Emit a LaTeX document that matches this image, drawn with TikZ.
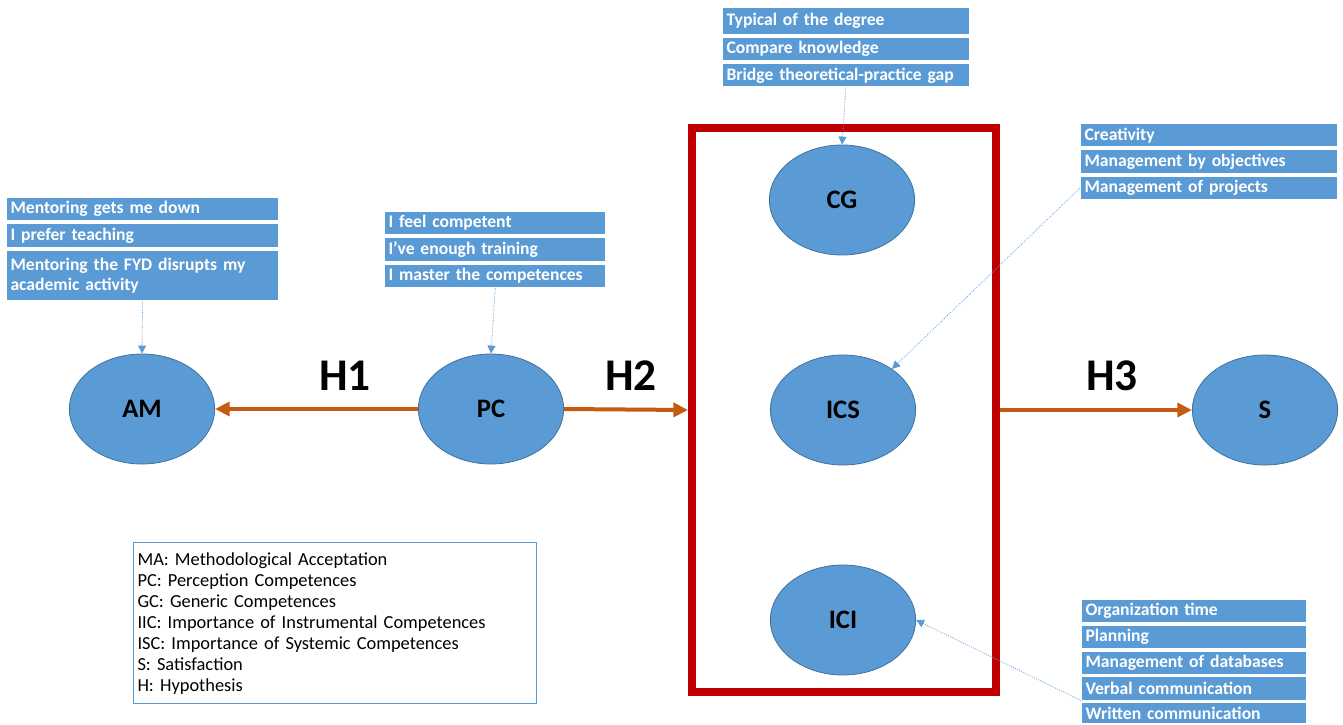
\documentclass[tikz,border=0pt]{standalone}
\usepackage{fontspec}
\setmainfont{Carlito}
\usepackage{xcolor}
\usepackage{tikz}
\usetikzlibrary{positioning,arrows.meta,shapes.geometric}
\definecolor{boxblue}{HTML}{5B9BD5}
\definecolor{rimblue}{HTML}{41719C}
\definecolor{hyporange}{HTML}{C55A11}
\definecolor{framered}{HTML}{C00000}
\tikzset{
  var/.style={ellipse,draw=rimblue,fill=boxblue,line width=0.6pt,inner sep=0pt,
              minimum width=109pt,minimum height=82.5pt,font=\bfseries\fontsize{20}{24}\selectfont},
  tbox/.style={fill=boxblue,draw=white,line width=0.8pt,text=white,align=left,
               text width=#1,inner xsep=3pt,inner ysep=0pt,minimum height=17.5pt,
               font=\bfseries\fontsize{13.2}{15}\selectfont},
  hlab/.style={font=\bfseries\fontsize{34}{40}\selectfont},
  group/.style={draw=framered,line width=6pt,minimum width=228pt,minimum height=423pt},
  legend/.style={draw=boxblue,line width=0.8pt,align=left,anchor=north west,text width=296pt,
                 minimum height=121pt,inner xsep=3pt,font=\fontsize{13.8}{15.75}\selectfont},
  hyp/.style={draw=hyporange,line width=3pt,-{Triangle[length=11pt,width=10.5pt]}},
  conn/.style={draw=boxblue,densely dotted,line width=0.6pt,-{Triangle[length=6pt,width=6pt]}}
}
\begin{document}
\begin{tikzpicture}[x=0.75pt,y=-0.75pt]
  \useasboundingbox (0,0) rectangle (1343,725);
  \node[var] (am) at (142,409) {AM};
  \node[var] (pc) at (491,409) {PC};
  \node[var] (cg) at (842,200) {CG};
  \node[var] (ics) at (843,410) {ICS};
  \node[var] (ici) at (843,620) {ICI};
  \node[var] (s) at (1265,410) {S};
  \node[group] (grp) at (844,410) {};
  \node[hlab] (h1) at (345,376) {H1};
  \node[hlab] (h2) at (631,376) {H2};
  \node[hlab] (h3) at (1112,376) {H3};
  \node[tbox=179pt,anchor=north west,minimum height=20pt] (cg1) at (722,7) {Typical of the degree};
  \node[tbox=179pt,below=1.5pt of cg1] (cg2) {Compare knowledge};
  \node[tbox=179pt,below=1.5pt of cg2] (cg3) {Bridge theoretical-practice gap};
  \node[tbox=198pt,anchor=north west] (am1) at (6,197) {Mentoring gets me down};
  \node[tbox=198pt,below=1.5pt of am1] (am2) {I prefer teaching};
  \node[tbox=198pt,below=1.5pt of am2,minimum height=38pt] (am3) {Mentoring the FYD disrupts my\\academic activity};
  \node[tbox=160pt,anchor=north west] (pc1) at (384,211) {I feel competent};
  \node[tbox=160pt,below=1.5pt of pc1] (pc2) {I’ve enough training};
  \node[tbox=160pt,below=1.5pt of pc2] (pc3) {I master the competences};
  \node[tbox=187pt,anchor=north west] (ics1) at (1080,123) {Creativity};
  \node[tbox=187pt,below=1.5pt of ics1] (ics2) {Management by objectives};
  \node[tbox=187pt,below=1.5pt of ics2] (ics3) {Management of projects};
  \node[tbox=163pt,anchor=north west] (ici1) at (1081,599) {Organization time};
  \node[tbox=163pt,below=1pt of ici1] (ici2) {Planning};
  \node[tbox=163pt,below=1pt of ici2] (ici3) {Management of databases};
  \node[tbox=163pt,below=1pt of ici3] (ici4) {Verbal communication};
  \node[tbox=163pt,below=1pt of ici4,minimum height=16pt] (ici5) {Written communication};
  \node[legend] (key) at (133,542) {MA: Methodological Acceptation\\PC: Perception Competences\\GC: Generic Competences\\IIC: Importance of Instrumental Competences\\ISC: Importance of Systemic Competences\\S: Satisfaction\\H: Hypothesis};
  \draw[hyp] (pc.west) -- (am.east);
  \draw[hyp] (pc.east) -- (grp.west);
  \draw[hyp] (grp.east) -- (s.west);
  \draw[conn] (am3.south) -- (am.north);
  \draw[conn] (pc3.south) -- (pc.north);
  \draw[conn] (cg3.south) -- (cg.north);
  \draw[conn] (ics3.west) -- (ics.40);
  \draw[conn] (ici4.south west) -- (ici.east);
\end{tikzpicture}
\end{document}
